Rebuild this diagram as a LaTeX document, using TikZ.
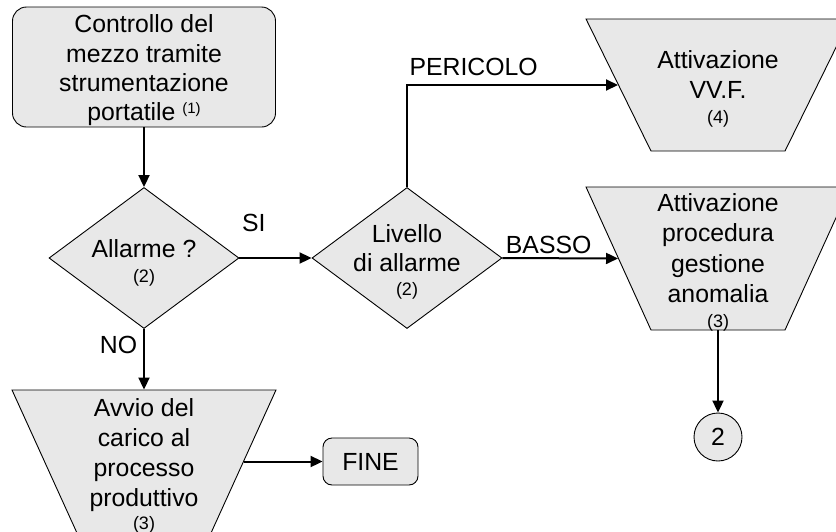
\documentclass[tikz,border=0pt]{standalone}
\usepackage{fontspec}
\setmainfont{Liberation Sans}
\usetikzlibrary{shapes.geometric,arrows.meta}
\definecolor{boxgray}{RGB}{232,232,232}
\newcommand{\sm}[1]{{\fontsize{18}{18}\selectfont #1}}
\begin{document}
\begin{tikzpicture}[x=1pt,y=-1pt,
    blocco/.style={draw, line width=0.9pt, fill=boxgray, inner sep=0pt},
    imbuto/.style={blocco, trapezium, shape border rotate=180, inner xsep=67pt},
    testo/.style={align=center, inner sep=0pt, font=\fontsize{24.8}{30.5}\selectfont},
    freccia/.style={line width=2pt, -{Triangle[length=12pt,width=11pt]}},
    etichetta/.style={inner sep=0pt, font=\fontsize{24.8}{30}\selectfont}]
    \useasboundingbox (0,0) rectangle (836,531);

    % Blocchi
    \node[blocco, rectangle, rounded corners=14pt, minimum width=263pt, minimum height=120pt] (controllo) at (144,67) {};
    \node[blocco, diamond, minimum width=190pt, minimum height=141pt] (allarme) at (144,258) {};
    \node[blocco, diamond, minimum width=190pt, minimum height=141pt] (livello) at (407,258) {};
    \node[imbuto, trapezium angle=63.79, inner ysep=66pt] (vvf) at (718,85) {};
    \node[imbuto, trapezium angle=65.56, inner ysep=71.5pt] (anomalia) at (718,258.5) {};
    \node[imbuto, trapezium angle=65.56, inner ysep=71.5pt] (avvio) at (144,461.5) {};
    \node[blocco, rectangle, rounded corners=9pt, minimum width=95pt, minimum height=47pt, testo] (fine) at (370.5,461.5) {FINE};
    \node[blocco, circle, minimum size=48pt, testo] (rimando) at (718,437) {2};

    % Testi dei blocchi
    \node[testo, font=\fontsize{24.8}{29.3}\selectfont] (controllo-t) at (144,70.5)
        {Controllo del\\mezzo tramite\\strumentazione\\portatile \raisebox{7.2pt}{\fontsize{15}{15}\selectfont(1)}};
    \node[testo] (allarme-t) at (144,262.5) {Allarme ?\\[-5.5pt]\sm{(2)}};
    \node[testo] (livello-t) at (407,261.5) {Livello\\[-1.5pt]di allarme\\[-6.5pt]\sm{(2)}};
    \node[testo] (vvf-t) at (718,88.75) {Attivazione\\VV.F.\\[-5.5pt]\sm{(4)}};
    \node[testo] (anomalia-t) at (718,262.25) {Attivazione\\procedura\\gestione\\anomalia\\[-5.5pt]\sm{(3)}};
    \node[testo, font=\fontsize{24.8}{30}\selectfont] (avvio-t) at (144,465.5) {Avvio del\\carico al\\processo\\produttivo\\[-7pt]\sm{(3)}};

    % Collegamenti
    \draw[freccia] (controllo) -- (allarme);
    \draw[freccia] (allarme.east) -- node[etichetta, pos=0.2, yshift=35.5pt] (si) {SI} (livello.west);
    \draw[freccia] (allarme.south) -- node[etichetta, pos=0.27, xshift=-25.5pt] (no) {NO} (avvio.north);
    \draw[freccia] (livello.north) |- node[etichetta, pos=0.658, yshift=17.8pt] (pericolo) {PERICOLO} (vvf.west);
    \draw[freccia] (livello.east) -- node[etichetta, pos=0.4, yshift=13.5pt] (basso) {BASSO} (anomalia.west);
    \draw[freccia] (avvio.east) -- (fine.west);
    \draw[freccia] (anomalia.south) -- (rimando.north);
\end{tikzpicture}
\end{document}
